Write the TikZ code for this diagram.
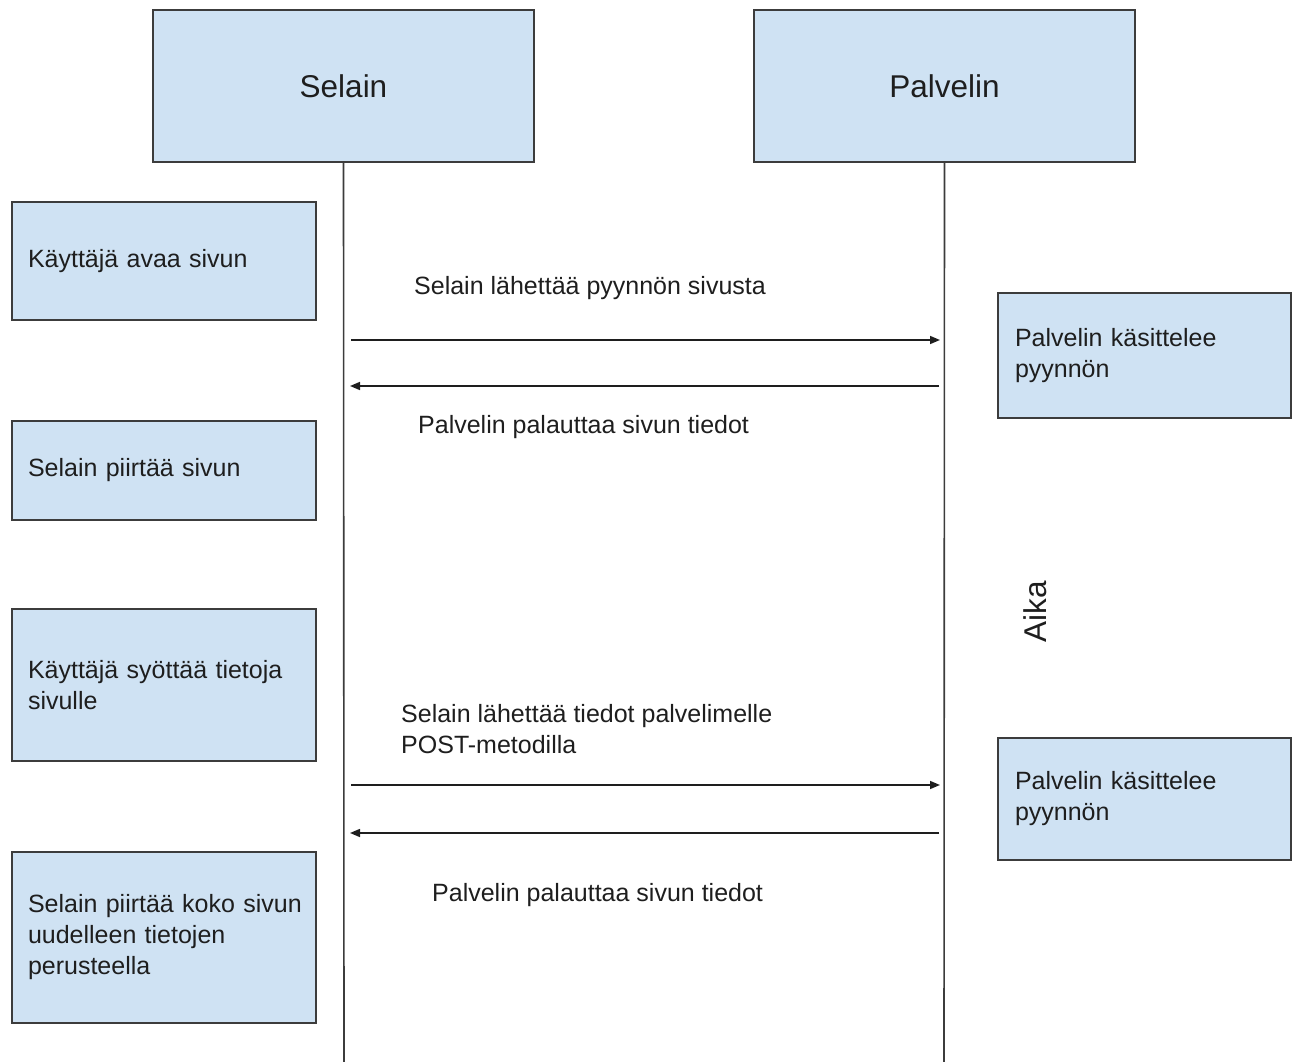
\documentclass[tikz,border=0pt]{standalone}
\usepackage{fontspec}
\setmainfont{Liberation Sans}
\usetikzlibrary{arrows.meta}
\definecolor{boxfill}{HTML}{CFE2F3}
\definecolor{boxline}{HTML}{3C3C3C}
\definecolor{txt}{HTML}{1E1E1E}
\tikzset{
  actor/.style={draw=boxline, fill=boxfill, line width=1.5pt, minimum width=381pt, minimum height=152pt, inner sep=0pt, outer sep=0pt, font=\fontsize{31.5}{36}\selectfont, text=txt},
  lbox/.style={draw=boxline, fill=boxfill, line width=1.5pt, text width=272pt, inner xsep=16pt, inner ysep=0pt, outer sep=0pt, align=left, font=\fontsize{25}{31}\selectfont, text=txt},
  rbox/.style={draw=boxline, fill=boxfill, line width=1.5pt, text width=259pt, inner xsep=17pt, inner ysep=0pt, outer sep=0pt, align=left, font=\fontsize{25}{31}\selectfont, text=txt},
  msg/.style={anchor=west, align=left, inner sep=0pt, font=\fontsize{25}{31}\selectfont, text=txt},
  lifeline/.style={draw=boxline, line width=1.6pt},
  call/.style={draw=txt, line width=1.5pt, -{Triangle[length=10pt,width=8pt]}}
}
\begin{document}
\begin{tikzpicture}[x=1pt,y=-1pt]
\useasboundingbox (0,0) rectangle (1294,1062);
% actors
\node[actor] (selain) at (343.5,86) {Selain};
\node[actor] (palvelin) at (944.5,86) {Palvelin};
\coordinate (selainEnd) at (344,1062);
\coordinate (palvelinEnd) at (944,1062);
\draw[lifeline] (selain.south) -- (selainEnd);
\draw[lifeline] (palvelin.south) -- (palvelinEnd);
% left boxes
\node[lbox, minimum height=118pt] (b1) at (164,261) {Käyttäjä avaa sivun};
\node[lbox, minimum height=99pt] (b2) at (164,470.5) {Selain piirtää sivun};
\node[lbox, minimum height=152pt] (b3) at (164,685) {Käyttäjä syöttää tietoja\\sivulle};
\node[lbox, minimum height=171pt] (b4) at (164,937.5) {\mbox{Selain piirtää koko sivun}\\uudelleen tietojen\\perusteella};
% right boxes
\node[rbox, minimum height=125pt] (r1) at (1144.5,355.5) {Palvelin käsittelee\\pyynnön};
\node[rbox, minimum height=122pt] (r2) at (1144.5,799) {Palvelin käsittelee\\pyynnön};
% arrow end points
\coordinate (a1s) at (351,340); \coordinate (a1e) at (940,340);
\coordinate (a2s) at (939,386); \coordinate (a2e) at (350,386);
\coordinate (a3s) at (351,785); \coordinate (a3e) at (940,785);
\coordinate (a4s) at (939,833); \coordinate (a4e) at (350,833);
\draw[call] (a1s) -- (a1e);
\draw[call] (a2s) -- (a2e);
\draw[call] (a3s) -- (a3e);
\draw[call] (a4s) -- (a4e);
% labels
\node[msg] (m1) at (414,288) {Selain lähettää pyynnön sivusta};
\node[msg] (m2) at (418,427) {Palvelin palauttaa sivun tiedot};
\node[msg] (m3) at (401,729.5) {Selain lähettää tiedot palvelimelle\\POST-metodilla};
\node[msg] (m4) at (432,895) {Palvelin palauttaa sivun tiedot};
\node[rotate=90, inner sep=0pt, font=\fontsize{31.5}{36}\selectfont, text=txt] (aika) at (1035,612) {Aika};
\end{tikzpicture}
\end{document}
